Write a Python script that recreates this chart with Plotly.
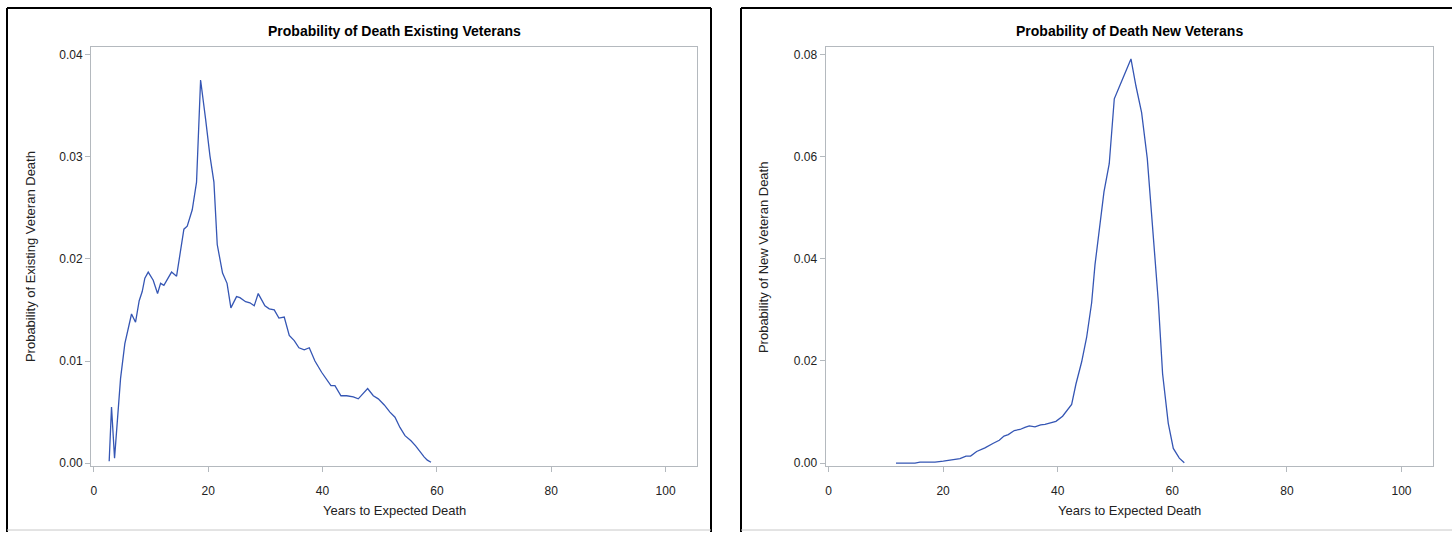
import plotly.graph_objects as go

# ---------------- data ----------------
existing_years = [2.68, 3.09, 3.62, 4.67, 5.42, 6.01, 6.59, 7.29, 7.93, 8.46,
                  8.92, 9.51, 10.38, 11.14, 11.67, 12.25, 12.9, 13.59, 14.47, 14.93,
                  15.75, 16.33, 17.21, 17.96, 18.67, 19.54, 20.3, 21.0, 21.58, 22.51,
                  23.3, 23.97, 24.96, 25.55, 26.54, 27.3, 28.05, 28.75, 29.92, 30.68,
                  31.55, 32.37, 33.3, 34.18, 35.05, 35.87, 36.8, 37.68, 38.67, 39.84,
                  40.71, 41.47, 42.17, 43.22, 44.21, 45.38, 46.25, 47.89, 48.88, 49.75,
                  50.8, 51.79, 52.67, 53.54, 54.42, 55.47, 56.28, 57.04, 57.8, 58.33,
                  58.97]
existing_prob = [0.0002, 0.0055, 0.0005, 0.0083, 0.0117, 0.0133, 0.0146, 0.0138, 0.0159, 0.0168,
                 0.0181, 0.0187, 0.0179, 0.0166, 0.0176, 0.0174, 0.0180, 0.0187, 0.0183, 0.0198,
                 0.0229, 0.0232, 0.0248, 0.0275, 0.0375, 0.0337, 0.0301, 0.0275, 0.0214, 0.0186,
                 0.0176, 0.0152, 0.0163, 0.0162, 0.0158, 0.0157, 0.0154, 0.0166, 0.0154, 0.0151,
                 0.0150, 0.0142, 0.0143, 0.0125, 0.0120, 0.0113, 0.0111, 0.0113, 0.0100, 0.0089,
                 0.0082, 0.0076, 0.0076, 0.0066, 0.0066, 0.0065, 0.0063, 0.0073, 0.0066, 0.0063,
                 0.0057, 0.0050, 0.0045, 0.0035, 0.0027, 0.0022, 0.0017, 0.0011, 0.0006, 0.0003,
                 0.0001]

new_years = [11.78, 15.1, 15.97, 18.59, 20.04, 21.5, 22.95, 24.0, 24.81, 25.86,
             27.31, 28.77, 29.81, 30.63, 31.38, 32.43, 33.42, 34.29, 35.05, 36.04,
             37.03, 37.79, 38.66, 39.7, 40.86, 42.44, 43.19, 44.18, 45.05, 45.93,
             46.51, 47.38, 48.08, 49.0, 49.88, 50.85, 51.8, 52.79, 53.66, 54.65,
             55.64, 56.57, 57.56, 58.31, 59.3, 60.18, 61.23, 62.1]
new_prob = [0.0, 0.0, 0.0002, 0.0002, 0.0004, 0.0006, 0.0009, 0.0014, 0.0014, 0.0023,
            0.0030, 0.0039, 0.0045, 0.0053, 0.0056, 0.0064, 0.0066, 0.0070, 0.0073, 0.0071,
            0.0075, 0.0076, 0.0079, 0.0082, 0.0092, 0.0115, 0.0155, 0.0198, 0.0246, 0.0314,
            0.0388, 0.0466, 0.0531, 0.0586, 0.0713, 0.0739, 0.0765, 0.0791, 0.0738, 0.0686,
            0.0596, 0.0460, 0.0317, 0.0175, 0.0078, 0.0029, 0.0010, 0.0001]

titles = ["Probability of Death Existing Veterans", "Probability of Death New Veterans"]
y_titles = ["Probability of Existing Veteran Death", "Probability of New Veteran Death"]
x_title = "Years to Expected Death"
x_ticks = [0, 20, 40, 60, 80, 100]
y_ticks_existing = [0.00, 0.01, 0.02, 0.03, 0.04]
y_ticks_new = [0.00, 0.02, 0.04, 0.06, 0.08]

# ---------------- layout helpers ----------------
W, H = 1452, 536
FONT = "Liberation Sans, Arial, sans-serif"
LINE = "#3556b4"
FRAME = "#b4b9be"


def px(x):
    return x / W


def py(y):
    return 1 - y / H


fig = go.Figure()
fig.add_trace(go.Scatter(x=existing_years, y=existing_prob, mode="lines",
                         line=dict(color=LINE, width=1.3), xaxis="x", yaxis="y",
                         showlegend=False))
fig.add_trace(go.Scatter(x=new_years, y=new_prob, mode="lines",
                         line=dict(color=LINE, width=1.3), xaxis="x2", yaxis="y2",
                         showlegend=False))

ydom = [py(470), py(47)]
axis_common = dict(showgrid=False, zeroline=False, showline=True, linecolor=FRAME,
                   linewidth=1, mirror=True, ticks="outside", ticklen=5,
                   tickcolor=FRAME, tickfont=dict(family=FONT, size=12, color="#222"))

fig.update_layout(
    width=W, height=H, margin=dict(l=0, r=0, t=0, b=0),
    paper_bgcolor="white", plot_bgcolor="white",
    xaxis=dict(domain=[px(91), px(697)], range=[-0.5, 105.5], tickvals=x_ticks,
               anchor="y", ticklabelstandoff=8, **axis_common),
    yaxis=dict(domain=ydom, range=[-0.00032, 0.04076], tickvals=y_ticks_existing,
               tickformat=".2f", anchor="x", **axis_common),
    xaxis2=dict(domain=[px(825.6), px(1433)], range=[-0.5, 105.5], tickvals=x_ticks,
                anchor="y2", ticklabelstandoff=8, **axis_common),
    yaxis2=dict(domain=ydom, range=[-0.00064, 0.0815], tickvals=y_ticks_new,
                tickformat=".2f", anchor="x2", **axis_common),
)

ann = []
# titles
for cx, t in zip([394, 1129], titles):
    ann.append(dict(x=px(cx), y=py(31), xref="paper", yref="paper", text="<b>%s</b>" % t,
                    showarrow=False, xanchor="center", yanchor="middle",
                    font=dict(family=FONT, size=14, color="black")))
# x titles
for cx in [394, 1129]:
    ann.append(dict(x=px(cx), y=py(514), xref="paper", yref="paper", text=x_title,
                    showarrow=False, xanchor="center", yanchor="middle",
                    font=dict(family=FONT, size=13, color="#222")))
# y titles
for cx, t in zip([30, 763], y_titles):
    ann.append(dict(x=px(cx), y=py(259), xref="paper", yref="paper", text=t,
                    textangle=-90, showarrow=False, xanchor="center", yanchor="middle",
                    font=dict(family=FONT, size=13, color="#222")))
fig.update_layout(annotations=ann)

# panel borders
shapes = []
for x0, x1, right in [(7, 711, True), (741, 1452, False)]:
    shapes.append(dict(type="line", xref="paper", yref="paper", x0=px(x0), x1=px(x0),
                       y0=py(8), y1=py(536), line=dict(color="black", width=2)))
    shapes.append(dict(type="line", xref="paper", yref="paper", x0=px(x0), x1=px(x1),
                       y0=py(8), y1=py(8), line=dict(color="black", width=2)))
    if right:
        shapes.append(dict(type="line", xref="paper", yref="paper", x0=px(x1), x1=px(x1),
                           y0=py(8), y1=py(536), line=dict(color="black", width=2)))
    shapes.append(dict(type="line", xref="paper", yref="paper", x0=px(x0), x1=px(x1),
                       y0=py(534), y1=py(534), line=dict(color="#c8c8c8", width=1)))
fig.update_layout(shapes=shapes)

fig.write_html("out.html", config={"displayModeBar": False},
               post_script="document.body.style.margin='0';document.body.style.overflow='hidden';")
